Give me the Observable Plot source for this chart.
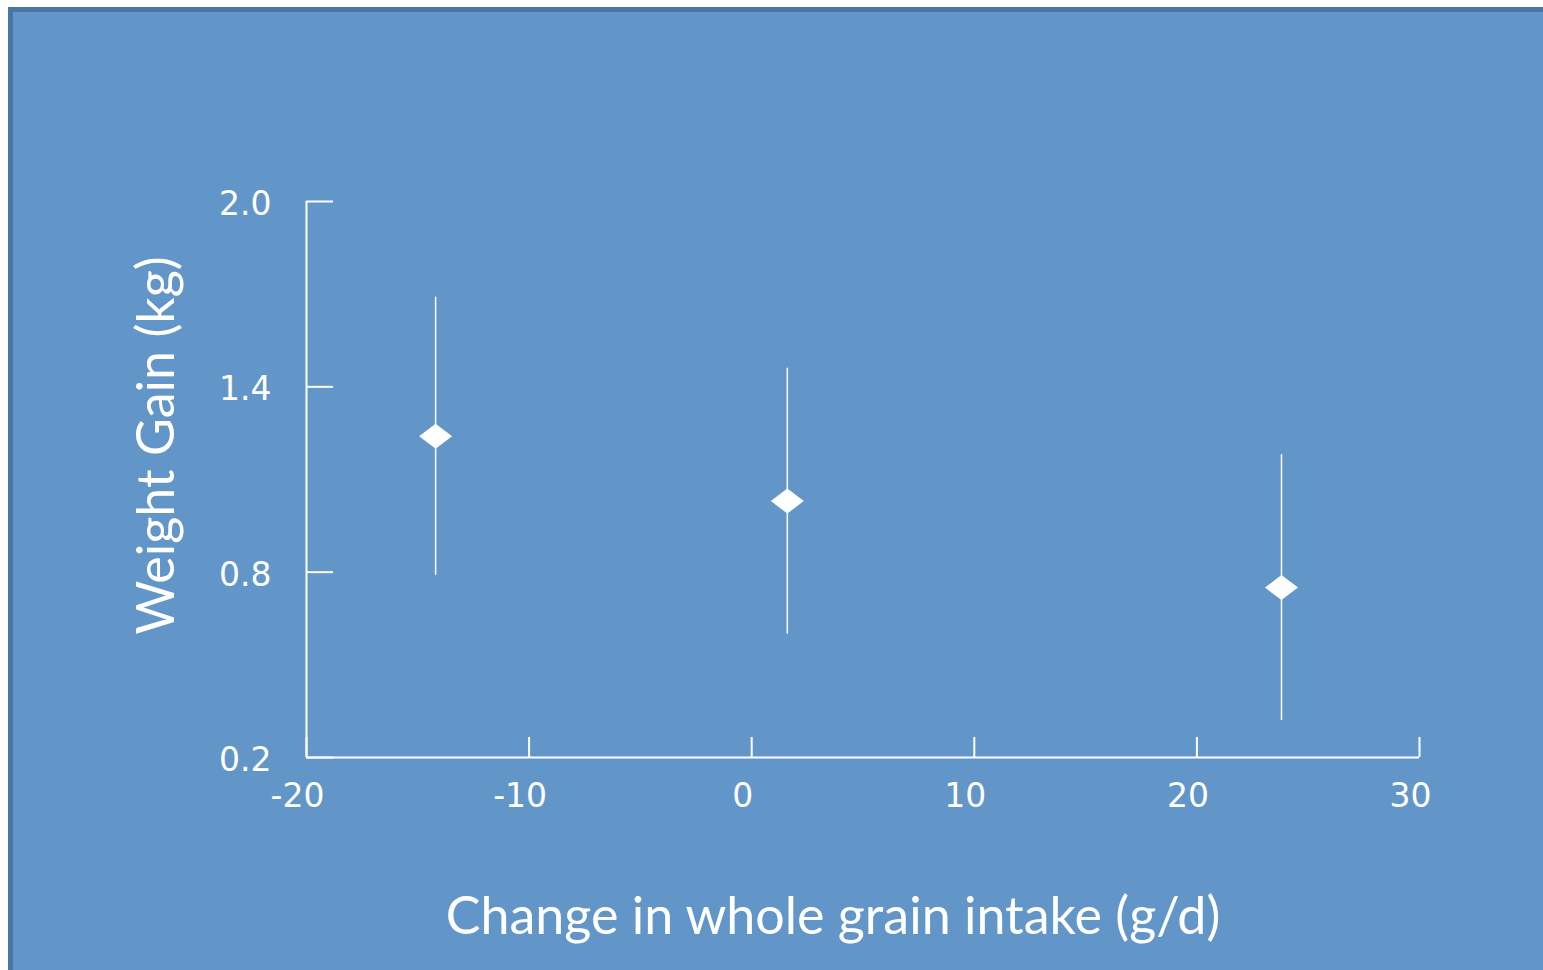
<!DOCTYPE html>
<html>
<head>
<meta charset="utf-8">
<script src="https://cdn.jsdelivr.net/npm/d3@7"></script>
<script src="https://cdn.jsdelivr.net/npm/@observablehq/plot@0.6"></script>
<style>
  html, body { margin: 0; padding: 0; background: #ffffff; overflow: hidden; }
  #panel { position: absolute; left: 8px; top: 7px; width: 1535px; height: 963px;
           background: #6296c8; border-top: 5px solid #4a76a4; border-left: 5px solid #4a76a4; box-sizing: border-box; }
  #chart { position: absolute; left: 0; top: 0; }
</style>
</head>
<body>
<div id="panel"></div>
<div id="chart"></div>
<script>
const intake = [-14.2, 1.6, 23.8];
const gain = [1.24, 1.03, 0.75];
const lower = [0.79, 0.60, 0.32];
const upper = [1.69, 1.46, 1.18];
const xTicks = [-20, -10, 0, 10, 20, 30];
const yTicks = [0.2, 0.8, 1.4, 2.0];
const xLabel = "Change in whole grain intake (g/d)";
const yLabel = "Weight Gain (kg)";

const data = intake.map((x, i) => ({x, y: gain[i], lo: lower[i], hi: upper[i]}));

const wideDiamond = {
  draw(ctx, size) {
    const s = Math.sqrt(size / Math.PI);
    const w = s * 1.32;
    ctx.moveTo(-w, 0);
    ctx.lineTo(0, -s);
    ctx.lineTo(w, 0);
    ctx.lineTo(0, s);
    ctx.closePath();
  }
};

const tickFont = "DejaVu Sans";
const titleFont = "Lato";

const chart = Plot.plot({
  width: 1543,
  height: 970,
  marginLeft: 306,
  marginRight: 124,
  marginTop: 201,
  marginBottom: 213,
  style: {background: "transparent", color: "white"},
  x: {domain: [-20, 30]},
  y: {domain: [0.2, 2.0]},
  marks: [
    Plot.ruleX([-20], {stroke: "white", strokeWidth: 2}),
    Plot.ruleY([0.2], {stroke: "white", strokeWidth: 2}),
    Plot.axisY({ticks: yTicks, tickSize: -27, fill: "none", stroke: "white", strokeWidth: 2, label: null}),
    Plot.axisY({ticks: yTicks, tickSize: 0, tickPadding: 35, tickFormat: d3.format(".1f"), fill: "white",
                fontSize: 33, fontFamily: tickFont, label: null, dy: 3}),
    Plot.axisX({ticks: xTicks, tickSize: -20, fill: "none", stroke: "white", strokeWidth: 2, label: null}),
    Plot.axisX({ticks: xTicks, tickSize: 0, tickPadding: 26, tickFormat: d => d3.format("d")(d).replace("−", "-"),
                fill: "white", fontSize: 33, fontFamily: tickFont, label: null, dx: -9}),
    Plot.ruleX(data, {x: "x", y1: "lo", y2: "hi", stroke: "white", strokeWidth: 1.5}),
    Plot.dot(data, {x: "x", y: "y", r: 12.5, symbol: wideDiamond, fill: "white", stroke: "none"}),
    Plot.text([yLabel], {frameAnchor: "left", rotate: -90, dx: -149, dy: -34, fill: "white",
                         fontSize: 52, fontFamily: titleFont, textAnchor: "middle", lineAnchor: "middle"}),
    Plot.text([xLabel], {frameAnchor: "bottom", dx: -30, dy: 160, fill: "white",
                         fontSize: 52, fontFamily: titleFont, textAnchor: "middle", lineAnchor: "middle"})
  ]
});
document.getElementById("chart").appendChild(chart);
</script>
</body>
</html>
